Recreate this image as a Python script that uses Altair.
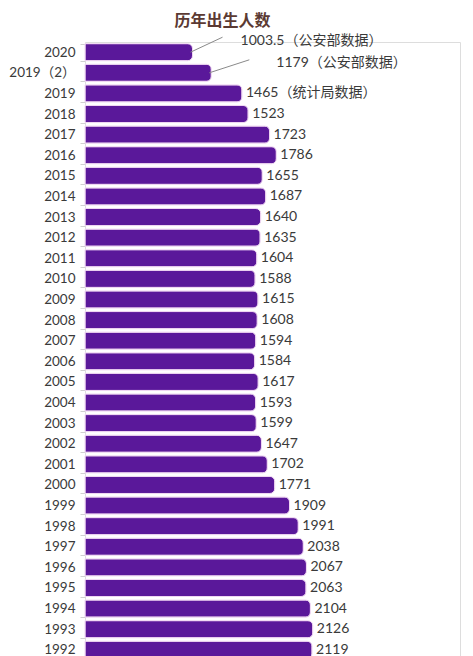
import pandas as pd
import altair as alt

BAR_FILL = "#5a189a"
BAR_EDGE = "#efd6f2"
TEXT_COLOR = "#3a3a3a"
TITLE_COLOR = "#5b3a33"
FONT = "Lato, Noto Sans CJK SC"

years = [
    "2020", "2019（2）", "2019", "2018", "2017", "2016", "2015", "2014",
    "2013", "2012", "2011", "2010", "2009", "2008", "2007", "2006", "2005",
    "2004", "2003", "2002", "2001", "2000", "1999", "1998", "1997", "1996",
    "1995", "1994", "1993", "1992",
]
births = [
    1003.5, 1179, 1465, 1523, 1723, 1786, 1655, 1687,
    1640, 1635, 1604, 1588, 1615, 1608, 1594, 1584, 1617,
    1593, 1599, 1647, 1702, 1771, 1909, 1991, 2038, 2067,
    2063, 2104, 2126, 2119,
]
notes = ["（公安部数据）", "（公安部数据）", "（统计局数据）"] + [""] * (len(years) - 3)

df = pd.DataFrame({"year": years, "births": births, "note": notes})
df["text"] = [
    (f"{v:g}" if v != int(v) else f"{int(v)}") + n
    for v, n in zip(df["births"], df["note"])
]

x_enc = alt.X("births:Q", scale=alt.Scale(domain=[0, 3500], nice=False), axis=None)
y_enc = alt.Y(
    "year:N",
    sort=years,
    title=None,
    scale=alt.Scale(paddingInner=0.17, paddingOuter=0.08),
    axis=alt.Axis(
        domain=False,
        tickBand="extent",
        tickColor="#d0d0d0",
        tickSize=5,
        labelFontSize=13.5,
        labelColor=TEXT_COLOR,
        labelFont=FONT,
        labelPadding=5,
    ),
)

bars = (
    alt.Chart(df)
    .mark_bar(color=BAR_FILL, stroke=BAR_EDGE, strokeWidth=1, cornerRadiusEnd=5)
    .encode(x=x_enc, y=y_enc)
)

# plain value labels (all rows except the two police-data callouts)
labels = (
    alt.Chart(df.iloc[2:])
    .mark_text(align="left", baseline="middle", dx=4, fontSize=14, font=FONT, color=TEXT_COLOR)
    .encode(x="births:Q", y=alt.Y("year:N", sort=years), text="text:N")
)

# callouts with leader lines
call_2020 = df.iloc[[0]]
call_2019b = df.iloc[[1]]

lead_2020 = (
    alt.Chart(call_2020)
    .mark_rule(color="#8a8a8a", strokeWidth=1, xOffset=-2, x2Offset=30, y2Offset=-15)
    .encode(x="births:Q", x2="births:Q", y=alt.Y("year:N", sort=years), y2="year:N")
)
text_2020 = (
    alt.Chart(call_2020)
    .mark_text(align="left", baseline="middle", dx=48, dy=-11, fontSize=14, font=FONT, color=TEXT_COLOR)
    .encode(x="births:Q", y=alt.Y("year:N", sort=years), text="text:N")
)

lead_2019b = (
    alt.Chart(call_2019b)
    .mark_rule(color="#8a8a8a", strokeWidth=1, xOffset=-2, x2Offset=38, y2Offset=-13)
    .encode(x="births:Q", x2="births:Q", y=alt.Y("year:N", sort=years), y2="year:N")
)
text_2019b = (
    alt.Chart(call_2019b)
    .mark_text(align="left", baseline="middle", dx=65, dy=-10, fontSize=14, font=FONT, color=TEXT_COLOR)
    .encode(x="births:Q", y=alt.Y("year:N", sort=years), text="text:N")
)

chart = (
    alt.layer(bars, labels, lead_2020, text_2020, lead_2019b, text_2019b)
    .properties(
        width=375,
        height=618,
        padding={"left": 0, "top": 5, "right": 5, "bottom": 5},
        title=alt.Title(
            text="历年出生人数",
            font="Noto Sans CJK SC",
            fontSize=16,
            fontWeight="bold",
            color=TITLE_COLOR,
            anchor="middle",
            frame="bounds",
            offset=5,
            dx=-12,
        ),
    )
    .configure_view(strokeWidth=0)
    .configure(background="white")
)

chart.save("out.html", embed_options={"renderer": "svg", "actions": False})
